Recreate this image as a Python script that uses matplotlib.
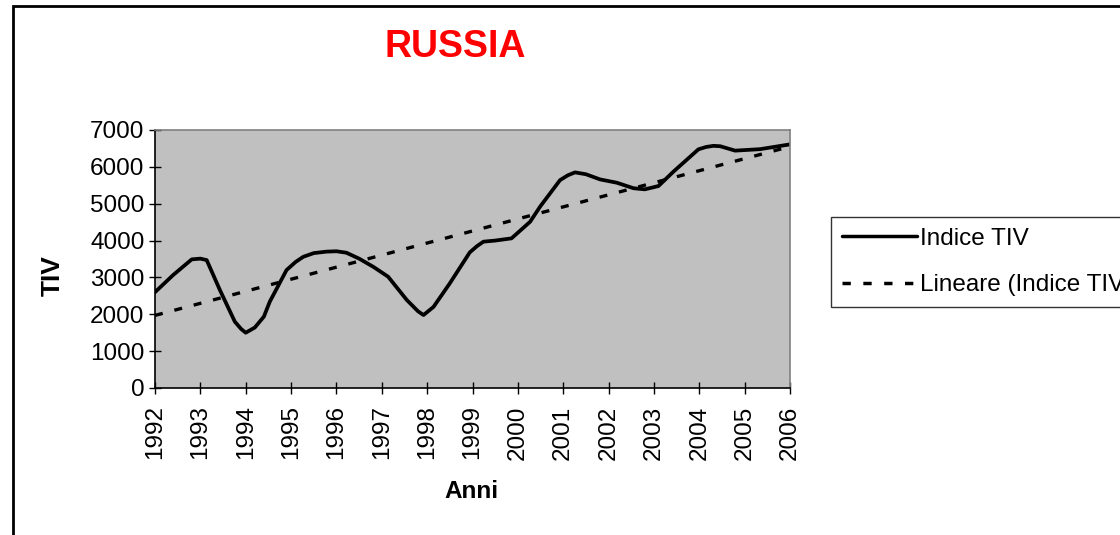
import matplotlib.pyplot as plt
import matplotlib.patches as patches

# Indice TIV Russia
years = [1992.0, 1992.4, 1992.81, 1993.0, 1993.14, 1993.43, 1993.76, 1993.9, 1994.0, 1994.2,
         1994.4, 1994.53, 1994.9, 1995.1, 1995.27, 1995.5, 1995.78, 1996.0, 1996.22, 1996.5,
         1996.81, 1997.14, 1997.55, 1997.8, 1997.92, 1998.14, 1998.5, 1998.94, 1999.1, 1999.24,
         1999.5, 1999.86, 2000.27, 2000.49, 2000.93, 2001.1, 2001.26, 2001.5, 2001.81, 2002.18,
         2002.55, 2002.8, 2003.1, 2003.43, 2003.98, 2004.15, 2004.31, 2004.46, 2004.79, 2005.34,
         2006.0]
tiv = [2600, 3065, 3490, 3510, 3470, 2660, 1800, 1600, 1500, 1640,
       1935, 2340, 3200, 3420, 3560, 3660, 3700, 3710, 3670, 3510,
       3290, 3020, 2390, 2080, 1980, 2200, 2840, 3680, 3850, 3970,
       4000, 4060, 4510, 4920, 5640, 5770, 5850, 5800, 5660, 5570,
       5420, 5390, 5480, 5870, 6475, 6540, 6570, 6560, 6440, 6480,
       6610]

# linear trend line (endpoints)
trend_years = [1992, 2006]
trend_values = [1970, 6550]

tick_years = list(range(1992, 2007))
y_ticks = [0, 1000, 2000, 3000, 4000, 5000, 6000, 7000]

plt.rcParams['font.family'] = ['Liberation Sans', 'DejaVu Sans']

fig = plt.figure(figsize=(11.2, 5.35), dpi=100)
W, H = 1120, 535

# plot area
ax = fig.add_axes([155 / W, 1 - 388 / H, 635 / W, 258 / H])
ax.set_facecolor('#c0c0c0')

ax.plot(years, tiv, color='black', linewidth=2.7, label='Indice TIV',
        solid_joinstyle='round', solid_capstyle='round')
ax.plot(trend_years, trend_values, color='black', linewidth=2.4, dashes=(2.4, 3.6),
        label='Lineare (Indice TIV)')

ax.set_xlim(1992, 2006)
ax.set_ylim(0, 7000)
ax.set_xticks(tick_years)
ax.set_xticklabels([str(y) for y in tick_years], rotation=90)
ax.set_yticks(y_ticks)
ax.tick_params(axis='both', direction='inout', length=9, width=1, labelsize=17.5)
ax.tick_params(axis='x', pad=8)
ax.tick_params(axis='y', pad=3)

for side in ['left', 'bottom']:
    ax.spines[side].set_color('black')
    ax.spines[side].set_linewidth(1.2)
for side in ['top', 'right']:
    ax.spines[side].set_color('#808080')
    ax.spines[side].set_linewidth(1.2)

# titles and axis labels
fig.text(455 / W, 1 - 47 / H, 'RUSSIA', color='red', fontsize=27, fontweight='bold',
         ha='center', va='center')
fig.text(53 / W, 1 - 276 / H, 'TIV', fontsize=19, fontweight='bold', rotation=90,
         ha='center', va='center')
fig.text(471 / W, 1 - 492 / H, 'Anni', fontsize=17.5, fontweight='bold',
         ha='center', va='center')

# legend outside the plot area (cut by the right edge, as in the original)
leg = fig.legend(loc='upper left', bbox_to_anchor=(831 / W, 1 - 217 / H), fontsize=17.5,
                 frameon=True, fancybox=False, edgecolor='black', handlelength=3.1,
                 handletextpad=0.1, labelspacing=1.0, borderpad=0.45, borderaxespad=0)
leg.get_frame().set_linewidth(1.0)
for h in leg.get_lines():
    h.set_linewidth(2.5)

# chart area border
fig.patches.append(patches.Rectangle((13 / W, -0.2), 1.2, 1.2 - 6 / H, transform=fig.transFigure,
                                     fill=False, edgecolor='black', linewidth=2, clip_on=False))

fig.savefig('out.png', dpi=100)
